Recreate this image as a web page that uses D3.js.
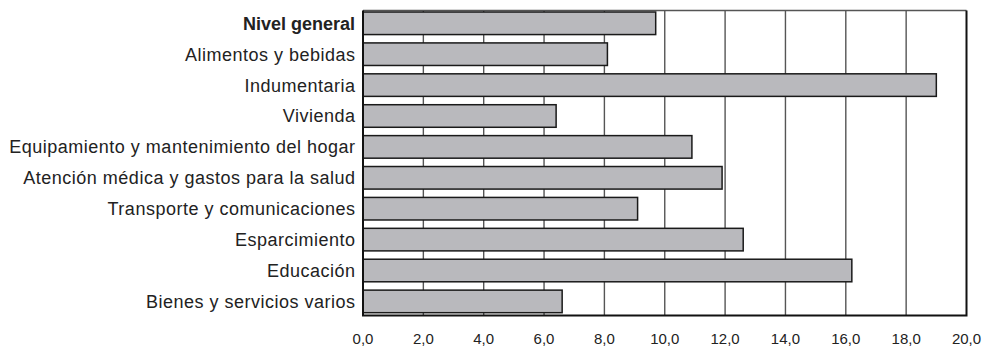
<!DOCTYPE html>
<html>
<head>
<meta charset="utf-8">
<script src="https://cdn.jsdelivr.net/npm/d3@7"></script>
<style>
  body { margin: 0; background: #fff; }
  svg { display: block; font-family: "Liberation Sans", Arial, Helvetica, sans-serif; }
</style>
</head>
<body>
<svg id="chart" width="984" height="349"></svg>
<script>
// the data
var categories = ['Nivel general', 'Alimentos y bebidas', 'Indumentaria', 'Vivienda',
    'Equipamiento y mantenimiento del hogar', 'Atención médica y gastos para la salud',
    'Transporte y comunicaciones', 'Esparcimiento', 'Educación', 'Bienes y servicios varios'];
var values = [9.7, 8.1, 19.0, 6.4, 10.9, 11.9, 9.1, 12.6, 16.2, 6.6];
var ticks = [0, 2, 4, 6, 8, 10, 12, 14, 16, 18, 20];

var plotL = 363, plotR = 966.5, plotT = 10.5, plotB = 315.5;

var svg = d3.select('#chart');

var scX = d3.scaleLinear().domain([0, 20]).range([plotL, plotR]);
var scY = d3.scaleBand().domain(categories).range([plotT, plotB])
    .paddingInner(0.27).paddingOuter(0.07).align(0.35);

// vertical grid lines
svg.append('g').selectAll('line')
    .data(ticks.slice(1, -1)).enter().append('line')
    .attr('x1', d => scX(d)).attr('x2', d => scX(d))
    .attr('y1', plotT).attr('y2', plotB)
    .attr('stroke', '#555').attr('stroke-width', 1.4);

// top border
svg.append('line')
    .attr('x1', plotL).attr('x2', plotR).attr('y1', plotT).attr('y2', plotT)
    .attr('stroke', '#555').attr('stroke-width', 1.6);

// bars
svg.append('g').selectAll('rect')
    .data(values).enter().append('rect')
    .attr('x', scX(0))
    .attr('y', (d, i) => scY(categories[i]))
    .attr('width', d => scX(d) - scX(0))
    .attr('height', scY.bandwidth())
    .attr('fill', '#b9b9bd').attr('stroke', '#1a1a1a').attr('stroke-width', 1.5);

// left, bottom, right frame
svg.append('path')
    .attr('d', 'M' + plotL + ',' + plotT + 'V' + plotB + 'H' + plotR + 'V' + plotT)
    .attr('fill', 'none').attr('stroke', '#111').attr('stroke-width', 2);

// category labels (first one bold)
svg.append('g').selectAll('text')
    .data(categories).enter().append('text')
    .attr('x', (d, i) => i === 0 ? plotL - 8 : plotL - 7.5)
    .attr('y', d => scY(d) + scY.bandwidth() / 2)
    .attr('dy', '0.36em')
    .attr('text-anchor', 'end')
    .attr('font-size', 18)
    .attr('fill', '#222')
    .attr('letter-spacing', (d, i) => i === 0 ? 0 : 0.5)
    .attr('font-weight', (d, i) => i === 0 ? 'bold' : 'normal')
    .text(d => d);

// x tick labels
svg.append('g').selectAll('text')
    .data(ticks).enter().append('text')
    .attr('x', d => scX(d))
    .attr('y', 344)
    .attr('text-anchor', 'middle')
    .attr('font-size', 15)
    .attr('fill', '#222')
    .text(d => d3.format('.1f')(d).replace('.', ','));
</script>
</body>
</html>
